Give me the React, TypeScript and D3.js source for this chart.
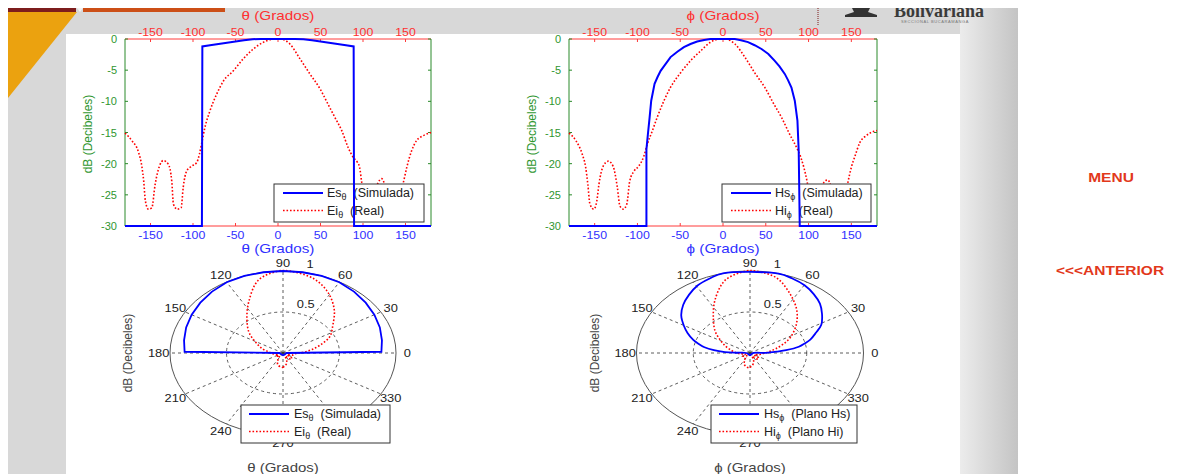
import React, { useEffect, useRef } from "react";
import * as d3 from "d3";

const W = 1185;
const H = 474;

// Ei (real) en el plano theta, dB
const eiThetaDeg = [-180, -172, -164, -160, -158, -156, -152.5, -148.5, -144.5, -139.5, -135, -129, -125, -123, -118.5, -114, -111.5, -107.5, -101.5, -95.5, -92.5, -90, -86, -80, -72, -64, -52.5, -41, -29, -17, -3.5, 2.5, 14, 26, 37.5, 49.5, 59, 67, 75, 82.5, 88.5, 93.5, 96, 98.5, 103, 108, 113, 118, 122, 126, 132, 137, 142, 147.5, 151.5, 157, 163, 171, 180];
const eiThetaDb = [-15.1, -16.3, -18.2, -20.6, -22.8, -26, -27.3, -27.1, -23.3, -20.4, -19.5, -20.1, -22.8, -26.5, -27.3, -27.1, -23.8, -21.2, -20.4, -19.8, -18.5, -16.9, -14.2, -11.5, -8.8, -6.7, -5.1, -3.2, -1.6, -0.5, 0, 0, -0.8, -3.2, -5.6, -8, -10.5, -12.6, -14.7, -17.4, -19, -19.8, -20.6, -23, -26.5, -27.3, -25, -23, -22.4, -23.5, -26.5, -27.3, -26, -23, -20.6, -18, -16.3, -15.5, -15];

// Es (simulada) en el plano theta
const esThetaDeg = [-180, -89.5, -89, -80, -70, -60, -50, -40, -30, -20, -10, 0, 10, 20, 30, 40, 50, 60, 70, 80, 89, 89.5, 180];
const esThetaDb = [-30, -30, -1.2, -1.02, -0.8, -0.6, -0.4, -0.2, -0.03, 0, 0, 0, 0, 0, -0.03, -0.2, -0.4, -0.6, -0.8, -1.02, -1.2, -30, -30];

// Hi (real) en el plano phi
const hiPhiDeg = [-180, -172, -164.5, -160.5, -158, -155.5, -151, -147.5, -145, -140, -134, -128.5, -123.5, -120.5, -116.5, -112.5, -109, -104, -98.5, -92.5, -88.5, -82.5, -77, -69, -61.5, -49.5, -38, -26, -14.5, -3, 2, 14, 25.5, 37, 49, 58.5, 68.5, 78, 86, 91, 94.5, 98.5, 103, 108, 113, 118, 122.5, 126, 132, 137, 142, 146, 150, 154, 160, 167.5, 176.5, 180];
const hiPhiDb = [-15.1, -16.3, -18.5, -20.6, -23.3, -26.5, -27.3, -26, -23.3, -20.4, -19.6, -20.4, -23.8, -26.8, -27.3, -26.5, -22.8, -21.2, -20.4, -18.8, -16.9, -14.7, -12.6, -9.9, -7.8, -5.4, -3.5, -1.9, -0.5, 0, 0, -0.8, -2.9, -5.4, -7.8, -10.2, -12.6, -15.3, -17.4, -19, -20.6, -23, -26.5, -27.3, -25, -23, -22.6, -23.5, -26.5, -27.3, -26, -23, -20.6, -18.9, -16.6, -15.5, -14.8, -14.7];

// Hs (simulada) en el plano phi
const hsPhiDeg = [-180, -89.5, -89.5, -87.8, -85.8, -83.9, -80, -76.5, -72.9, -67, -61.3, -53, -45.7, -38, -30.2, -22, -14.6, 13.8, 21, 29.3, 37, 45, 53, 60.5, 66, 72.2, 76, 80, 83.9, 87, 88.5, 89.7, 180];
const hsPhiDb = [-30, -30, -17.7, -15.3, -12.6, -9.9, -7.2, -6.1, -5.1, -4.0, -2.9, -2.0, -1.3, -0.8, -0.4, -0.15, 0, 0, -0.2, -0.5, -1.0, -1.6, -2.4, -3.5, -4.4, -5.6, -6.6, -7.8, -9.9, -13.1, -18, -30, -30];

const xTicks = [-150, -100, -50, 0, 50, 100, 150];
const yTicks = [-30, -25, -20, -15, -10, -5, 0];
const polarAngles = [0, 30, 60, 90, 120, 150, 180, 210, 240, 270, 300, 330];
const polarRings = [0.5, 1];

const FONT = "'Liberation Sans', Arial, Helvetica, sans-serif";
const RED = "#ff0000";
const BLUE = "#0000ff";
const RED_TXT = "#ff3030";
const BLUE_TXT = "#3030ff";
const GREEN = "#2f962f";

type Sel = d3.Selection<any, unknown, null, undefined>;

function addText(p: Sel, x: number, y: number, s: string, o: any = {}) {
  const t = p
    .append("text")
    .attr("transform", `translate(${x},${y})${o.rot ? ` rotate(${o.rot})` : ""} scale(${o.sx ?? 1.12},1)`)
    .attr("text-anchor", o.anchor ?? "middle")
    .attr("dominant-baseline", "central")
    .attr("font-family", o.family ?? FONT)
    .attr("font-size", o.size ?? 11)
    .attr("fill", o.fill ?? "#333")
    .text(s);
  if (o.weight) t.attr("font-weight", o.weight);
  return t;
}

function dotted(path: Sel) {
  return path
    .attr("fill", "none")
    .attr("stroke", RED)
    .attr("stroke-width", 1.6)
    .attr("stroke-dasharray", "1.6,1.9");
}

function legend(p: Sel, bx: number, by: number, bw: number, lx0: number, lx1: number, tx: number, entries: any[]) {
  p.append("rect")
    .attr("x", bx).attr("y", by).attr("width", bw).attr("height", 38)
    .attr("fill", "#fff").attr("stroke", "#333").attr("stroke-width", 1);
  entries.forEach((e, i) => {
    const yy = by + 9 + i * 17.5;
    const l = p.append("line").attr("x1", lx0).attr("x2", lx1).attr("y1", yy).attr("y2", yy);
    if (e.dotted) dotted(l);
    else l.attr("stroke", BLUE).attr("stroke-width", 2);
    const t = p.append("text")
      .attr("x", tx).attr("y", yy)
      .attr("dominant-baseline", "central")
      .attr("font-family", FONT).attr("font-size", 12.5).attr("fill", "#222");
    t.append("tspan").text(e.main);
    t.append("tspan").attr("font-size", 9).attr("dy", 4).text(e.sub);
    t.append("tspan").attr("dy", -4).text(" \u00a0" + e.rest);
  });
}

function cartesian(svg: Sel, box: any, cfg: any) {
  const x = d3.scaleLinear().domain([-180, 180]).range([box.x0, box.x1]);
  const y = d3.scaleLinear().domain([-30, 0]).range([box.y1, box.y0]);
  const g = svg.append("g");

  // marco: arriba/abajo rojo, lados verdes
  const frame = (x1: number, y1: number, x2: number, y2: number, c: string) =>
    g.append("line").attr("x1", x1).attr("y1", y1).attr("x2", x2).attr("y2", y2).attr("stroke", c).attr("stroke-width", 1);
  frame(box.x0, box.y0, box.x1, box.y0, "#ff3a3a");
  frame(box.x0, box.y1, box.x1, box.y1, "#ff3a3a");
  frame(box.x0, box.y0, box.x0, box.y1, "#2a8a2a");
  frame(box.x1, box.y0, box.x1, box.y1, "#2a8a2a");

  xTicks.forEach((t) => {
    frame(x(t), box.y0, x(t), box.y0 + 3, "#ff3a3a");
    frame(x(t), box.y1, x(t), box.y1 - 3, "#ff3a3a");
    addText(g, x(t), box.y0 - 7, String(t), { fill: RED_TXT });
    addText(g, x(t), box.y1 + 9, String(t), { fill: BLUE_TXT });
  });
  yTicks.forEach((t) => {
    frame(box.x0, y(t), box.x0 + 3, y(t), "#2a8a2a");
    frame(box.x1, y(t), box.x1 - 3, y(t), "#2a8a2a");
    addText(g, box.x0 - 8, y(t), String(t), { fill: GREEN, anchor: "end", sx: 1 });
  });

  const mid = (box.x0 + box.x1) / 2;
  addText(g, mid, 16, cfg.sym + " (Grados)", { fill: RED_TXT, size: 12.5, sx: 1.22 });
  addText(g, mid, 249, cfg.sym + " (Grados)", { fill: BLUE_TXT, size: 12.5, sx: 1.22 });
  addText(g, box.x0 - 37, 134, "dB (Decibeles)", { fill: GREEN, size: 12, sx: 1, rot: -90 });

  const line = d3.line<[number, number]>().x((d) => x(d[0])).y((d) => y(d[1]));
  dotted(g.append("path").attr("d", line.curve(d3.curveMonotoneX)(d3.zip(cfg.realDeg, cfg.realDb) as any)));

  legend(g, cfg.leg.x, 184, cfg.leg.w, cfg.leg.x + 9, cfg.leg.x + 49, cfg.leg.x + 53, cfg.entries);

  g.append("path")
    .attr("d", line.curve(d3.curveLinear)(d3.zip(cfg.simDeg, cfg.simDb) as any))
    .attr("fill", "none").attr("stroke", BLUE).attr("stroke-width", 2);
}

function polar(svg: Sel, cx: number, cy: number, rx: number, ry: number, cfg: any) {
  const g = svg.append("g");
  const rX = d3.scaleLinear().domain([0, 1]).range([0, rx]);
  const rY = d3.scaleLinear().domain([0, 1]).range([0, ry]);
  const pt = (a: number, r: number): [number, number] => [
    cx + rX(r) * Math.cos((a * Math.PI) / 180),
    cy - rY(r) * Math.sin((a * Math.PI) / 180),
  ];
  const legTop = 405;
  const legBottom = legTop + 38;
  const underLegend = (px: number, py: number) =>
    px > cfg.leg.x && px < cfg.leg.x + cfg.leg.w && py > legTop && py < legBottom - 4;

  g.append("ellipse").attr("cx", cx).attr("cy", cy).attr("rx", rX(0.5)).attr("ry", rY(0.5))
    .attr("fill", "none").attr("stroke", "#333").attr("stroke-width", 0.8).attr("stroke-dasharray", "3,3");
  g.append("ellipse").attr("cx", cx).attr("cy", cy).attr("rx", rX(1)).attr("ry", rY(1))
    .attr("fill", "none").attr("stroke", "#555").attr("stroke-width", 1);
  polarAngles.forEach((a) => {
    const [px, py] = pt(a, 1);
    g.append("line").attr("x1", cx).attr("y1", cy).attr("x2", px).attr("y2", py)
      .attr("stroke", "#333").attr("stroke-width", 0.8).attr("stroke-dasharray", "3,3");
    const [lx, ly] = pt(a, 1.1);
    // la leyenda tapa la etiqueta de 300
    if (!underLegend(lx, ly)) addText(g, lx, ly, String(a), { size: 11.5, fill: "#222" });
  });
  polarRings.forEach((r) => {
    const [lx, ly] = pt(80, r);
    addText(g, lx + 4, ly - 8, String(r), { size: 11.5, fill: "#222", anchor: "start" });
  });

  const toXY = (deg: number[], db: number[]) =>
    d3.zip(deg, db).map(([d, v]) => pt(d + 90, Math.pow(10, v / 20)));
  const smooth = d3.line().curve(d3.curveCatmullRom.alpha(0.5));
  const straight = d3.line();
  dotted(g.append("path").attr("d", smooth(toXY(cfg.realDeg, cfg.realDb))));
  g.append("path").attr("d", (cfg.sharp ? straight : smooth)(toXY(cfg.simDeg, cfg.simDb)))
    .attr("fill", "none").attr("stroke", BLUE).attr("stroke-width", 1.8);

  addText(g, cfg.yTitleX, cy, "dB (Decibeles)", { size: 12, fill: "#444", sx: 1, rot: -90 });
  addText(g, cx, 468, cfg.sym + " (Grados)", { size: 12.5, fill: "#444", sx: 1.2 });

  legend(g, cfg.leg.x, legTop, cfg.leg.w, cfg.leg.x + 8, cfg.leg.x + 48, cfg.leg.x + 53, cfg.entries);
}

const App: React.FC = () => {
  const ref = useRef<SVGSVGElement | null>(null);

  useEffect(() => {
    if (!ref.current) return;
    const svg = d3.select(ref.current);
    svg.selectAll("*").remove();

    // fondo de la diapositiva
    const defs = svg.append("defs");
    const grad = defs.append("linearGradient").attr("id", "side").attr("x1", 0).attr("x2", 1);
    grad.append("stop").attr("offset", 0).attr("stop-color", "#ececec");
    grad.append("stop").attr("offset", 1).attr("stop-color", "#c4c4c4");

    svg.append("rect").attr("width", W).attr("height", H).attr("fill", "#fff");
    svg.append("rect").attr("x", 8).attr("y", 8).attr("width", 1010).attr("height", H - 8).attr("fill", "#d8d8d8");
    svg.append("rect").attr("x", 960).attr("y", 8).attr("width", 58).attr("height", H - 8).attr("fill", "url(#side)");
    svg.append("rect").attr("x", 66).attr("y", 34).attr("width", 894).attr("height", H - 34).attr("fill", "#fff");
    svg.append("polygon").attr("points", "8,12 77,12 8,98").attr("fill", "#eba20f");

    // logo
    svg.append("line").attr("x1", 818).attr("x2", 818).attr("y1", 8).attr("y2", 26)
      .attr("stroke", "#8b3a3a").attr("stroke-width", 1.2).attr("stroke-dasharray", "1,1");
    svg.append("path").attr("d", "M852,8 L870,8 L868,12 L877,15 L877,17 L845,17 L845,15 L854,12 Z").attr("fill", "#333");
    svg.append("text").attr("x", 894).attr("y", 17).attr("font-family", "'Liberation Serif', serif")
      .attr("font-weight", "bold").attr("font-size", 18).attr("fill", "#3a3a3a").text("Bolivariana");
    svg.append("text").attr("x", 901).attr("y", 23).attr("font-family", FONT)
      .attr("font-size", 4).attr("fill", "#777").attr("letter-spacing", 0.6).text("SECCIONAL BUCARAMANGA");
    svg.append("rect").attr("width", W).attr("height", 8).attr("fill", "#fff");
    svg.append("rect").attr("x", 8).attr("y", 8).attr("width", 68).attr("height", 4).attr("fill", "#7d1d1d");
    svg.append("polygon").attr("points", "77,8 83,8 80,12").attr("fill", "#f2f2f2");
    svg.append("rect").attr("x", 83).attr("y", 8).attr("width", 142).attr("height", 4).attr("fill", "#cc4f17");

    cartesian(svg, { x0: 125, x1: 431, y0: 39, y1: 226 }, {
      sym: "θ",
      realDeg: eiThetaDeg, realDb: eiThetaDb, simDeg: esThetaDeg, simDb: esThetaDb,
      leg: { x: 274, w: 150 },
      entries: [
        { main: "Es", sub: "θ", rest: "(Simulada)" },
        { main: "Ei", sub: "θ", rest: "(Real)", dotted: true },
      ],
    });
    cartesian(svg, { x0: 569, x1: 877, y0: 39, y1: 226 }, {
      sym: "ϕ",
      realDeg: hiPhiDeg, realDb: hiPhiDb, simDeg: hsPhiDeg, simDb: hsPhiDb,
      leg: { x: 722, w: 149 },
      entries: [
        { main: "Hs", sub: "ϕ", rest: "(Simulada)" },
        { main: "Hi", sub: "ϕ", rest: "(Real)", dotted: true },
      ],
    });

    polar(svg, 283, 353, 113, 82, {
      sym: "θ", yTitleX: 128, sharp: true,
      realDeg: eiThetaDeg, realDb: eiThetaDb, simDeg: esThetaDeg, simDb: esThetaDb,
      leg: { x: 241, w: 149 },
      entries: [
        { main: "Es", sub: "θ", rest: "(Simulada)" },
        { main: "Ei", sub: "θ", rest: "(Real)", dotted: true },
      ],
    });
    polar(svg, 750, 353, 113.5, 82, {
      sym: "ϕ", yTitleX: 595, sharp: false,
      realDeg: hiPhiDeg, realDb: hiPhiDb, simDeg: hsPhiDeg, simDb: hsPhiDb,
      leg: { x: 711, w: 146 },
      entries: [
        { main: "Hs", sub: "ϕ", rest: "(Plano Hs)" },
        { main: "Hi", sub: "ϕ", rest: "(Plano Hi)", dotted: true },
      ],
    });

    // navegación
    addText(svg, 1111, 177, "MENU", { size: 13.5, weight: "bold", fill: "#e2381b", sx: 1.15, family: "Arial, 'Liberation Sans', sans-serif" });
    addText(svg, 1110, 270, "<<<ANTERIOR", { size: 13.5, weight: "bold", fill: "#e2381b", sx: 1.15, family: "Arial, 'Liberation Sans', sans-serif" });
  }, []);

  return (
    <svg
      ref={ref}
      width={W}
      height={H}
      style={{ position: "absolute", left: 0, top: 0, display: "block" }}
    />
  );
};

export default App;
